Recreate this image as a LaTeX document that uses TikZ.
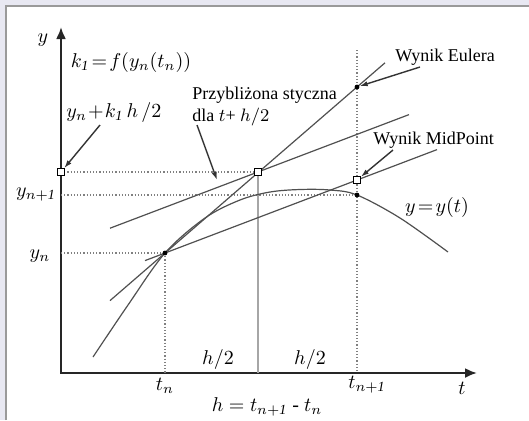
\documentclass[tikz,border=0pt]{standalone}
\usepackage{fontspec}
\setmainfont{Liberation Serif}
\usetikzlibrary{arrows.meta}
\definecolor{framebg}{HTML}{E8E8F2}
\definecolor{framegray}{HTML}{9A9A9A}
\definecolor{linegray}{HTML}{505050}
\tikzset{
  axis/.style={line width=1.1pt, black!85},
  ln/.style={line width=0.6pt, linegray},
  dots/.style={densely dotted, line width=0.6pt, gray},
  pt/.style={circle, fill=black, inner sep=0pt, minimum size=2.4pt},
  sq/.style={rectangle, draw=black, fill=white, line width=0.5pt, inner sep=0pt, minimum size=3.4pt},
  lbl/.style={font=\fontsize{9}{10}\selectfont, inner sep=0pt},
  mlbl/.style={font=\fontsize{10}{12}\selectfont, inner sep=0pt},
  ptr/.style={ln, line width=0.7pt, black!80, -{Latex[length=4pt,width=2.6pt]}}
}
\begin{document}
\begin{tikzpicture}[x=0.5pt, y=-0.5pt]
    \useasboundingbox (0,0) rectangle (529,420);
    \fill[white] (0,0) rectangle (529,420);
    \fill[framebg] (0,0) rectangle (529,6);
    \fill[framebg] (0,0) rectangle (6,420);
    \draw[framegray, line width=1pt] (6,420) -- (6,6) -- (529,6);

    % axes
    \coordinate (ytop) at (61,27);
    \coordinate (orig) at (61,373);
    \coordinate (xend) at (477,373);
    \draw[axis, {Latex[length=6pt,width=5pt]}-{Latex[length=6pt,width=5pt]}] (ytop) -- (orig) -- (xend);

    % points
    \coordinate (ay) at (61,172);
    \coordinate (ayn1) at (61,195);
    \coordinate (ayn) at (61,253);
    \coordinate (atn) at (165,373);
    \coordinate (amid) at (258,373);
    \coordinate (atn1) at (357,373);
    \coordinate (vtop) at (357,50);

    % dotted guides
    \draw[dots] (ay) -- (258,172);
    \draw[dots] (ayn1) -- (357,195);
    \draw[dots] (ayn) -- (165,253);
    \draw[dots] (165,253) -- (atn);
    \draw[dots] (vtop) -- (atn1);
    \draw[ln, gray!70, line width=0.7pt] (258,172) -- (amid);

    % tangents
    \coordinate (eul0) at (110,300.6);
    \coordinate (eul1) at (385,62.8);
    \coordinate (par0) at (145,260.6);
    \coordinate (par1) at (437,149.6);
    \coordinate (tan0) at (110,228.2);
    \coordinate (tan1) at (409,114.6);
    \draw[ln] (eul0) -- (eul1);
    \draw[ln] (par0) -- (par1);
    \draw[ln] (tan0) -- (tan1);

    % y(t)
    \draw[ln] plot[smooth, tension=0.55] coordinates {(93,357) (128,305) (165,253) (205,218) (240,200) (270,192) (300,189.5) (330,190) (357,195) (400,218) (448,252)};

    % markers
    \node[pt] (pn) at (165,253) {};
    \node[pt] (peu) at (357,87) {};
    \node[pt] (pyn1) at (357,195) {};
    \node[sq] (sqy) at (ay) {};
    \node[sq] (sqm) at (258,172) {};
    \node[sq] (sqmp) at (357,180) {};

    % labels
    \node[mlbl] (ly) at (43,40) {$y$};
    \node[mlbl] (lk) at (131,62) {$k_{\mathit{1}}\!=\!f(y_n(t_n))$};
    \node[mlbl, anchor=west] (lyk) at (66,112) {$y_n\!+\!k_{\mathit{1}}\,h\,/2$};
    \node[mlbl] (lyn1) at (36,195) {$y_{n+\mathit{1}}$};
    \node[mlbl] (lyn) at (40,256) {$y_n$};
    \node[mlbl] (ltn) at (165,386) {$t_n$};
    \node[mlbl] (ltn1) at (367,385) {$t_{n+\mathit{1}}$};
    \node[mlbl] (lt) at (462,388) {$t$};
    \node[mlbl] (lh1) at (218,359) {$h/2$};
    \node[mlbl] (lh2) at (310,359) {$h/2$};
    \node[mlbl] (lh) at (267,407) {$h = t_{n+\mathit{1}}$ - $t_n$};
    \node[mlbl] (lyt) at (437,207) {$y\!=\!y(t)$};
    \node[lbl, anchor=west, align=left] (lprz) at (192,106) {Przybliżona styczna\\[1pt]dla $t$+ $h/2$};
    \node[lbl, anchor=west] (leu) at (395,57) {Wynik Eulera};
    \node[lbl, anchor=west] (lmp) at (373,140) {Wynik MidPoint};

    % pointers
    \coordinate (s1) at (100,125);
    \coordinate (s2) at (197,125);
    \coordinate (e2) at (217,180);
    \coordinate (s3) at (420,67);
    \coordinate (s4) at (393,150);
    \draw[ptr] (s1) -- (sqy);
    \draw[ptr] (s2) -- (e2);
    \draw[ptr] (s3) -- (peu);
    \draw[ptr] (s4) -- (sqmp);
\end{tikzpicture}
\end{document}
